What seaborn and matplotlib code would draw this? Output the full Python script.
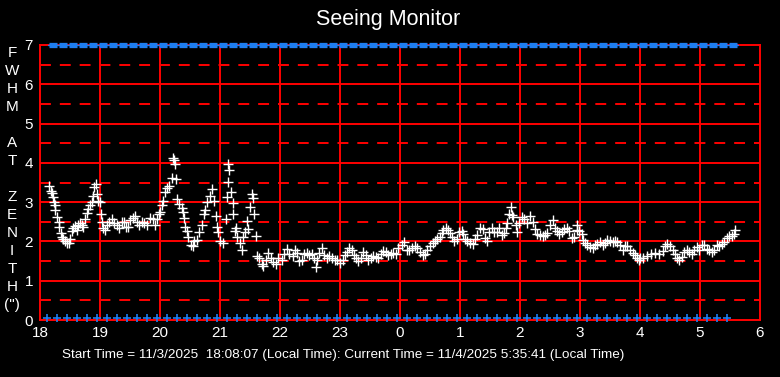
import matplotlib
matplotlib.use('Agg')
import matplotlib.pyplot as plt
import seaborn as sns
import pandas as pd

# FWHM samples: hour of night (18 = 18:00, 24 = midnight, 29.5 = 5:30) and FWHM in arcsec
hours = [
    18.155, 18.178, 18.195, 18.21, 18.233, 18.245, 18.255, 18.29, 18.31, 18.32,
    18.345, 18.367, 18.39, 18.417, 18.445, 18.478, 18.5, 18.528, 18.555, 18.583,
    18.61, 18.64, 18.667, 18.695, 18.72, 18.75, 18.78, 18.805, 18.833, 18.86,
    18.878, 18.905, 18.928, 18.945, 18.97, 19.0, 19.01, 19.03, 19.055, 19.083,
    19.11, 19.155, 19.195, 19.233, 19.28, 19.32, 19.36, 19.4, 19.433, 19.47,
    19.5, 19.545, 19.583, 19.61, 19.655, 19.695, 19.733, 19.78, 19.833, 19.88,
    19.917, 19.955, 19.99,
    20.0, 20.03, 20.055, 20.083, 20.12, 20.155, 20.195, 20.267, 20.21, 20.233,
    20.255, 20.29, 20.32, 20.36, 20.378, 20.4, 20.417, 20.445, 20.47, 20.51,
    20.545, 20.567, 20.61, 20.655, 20.695, 20.733, 20.75, 20.79, 20.833, 20.87,
    20.905, 20.933, 20.945, 20.97, 21.0, 21.045, 21.14, 21.155, 21.128, 21.183,
    21.11, 21.21, 21.22, 21.1, 21.267, 21.25, 21.29, 21.333, 21.36, 21.39,
    21.417, 21.455, 21.47, 21.5, 21.53, 21.545, 21.567, 21.595, 21.61, 21.65,
    21.695, 21.72, 21.767, 21.805, 21.85, 21.89, 21.933, 21.97,
    22.03, 22.067, 22.12, 22.155, 22.21, 22.25, 22.28, 22.32, 22.36, 22.4,
    22.445, 22.49, 22.53, 22.567, 22.6, 22.62, 22.655, 22.695, 22.733, 22.78,
    22.82, 22.86, 22.917, 22.955, 23.0, 23.045, 23.083, 23.12, 23.155, 23.195,
    23.233, 23.267, 23.305, 23.345, 23.39, 23.433, 23.47, 23.51, 23.555, 23.6,
    23.64, 23.68, 23.72, 23.767, 23.805, 23.845, 23.89, 23.933, 23.97,
    24.03, 24.067, 24.11, 24.155, 24.195, 24.25, 24.29, 24.333, 24.378, 24.417,
    24.455, 24.5, 24.545, 24.583, 24.62, 24.667, 24.695, 24.72, 24.767, 24.805,
    24.833, 24.86, 24.9, 24.945, 24.99, 25.03, 25.055, 25.083, 25.12, 25.167,
    25.21, 25.25, 25.29, 25.333, 25.378, 25.417, 25.455, 25.49, 25.53, 25.567,
    25.61, 25.65, 25.695, 25.733, 25.767, 25.79, 25.82, 25.845, 25.86, 25.89,
    25.933, 25.955, 25.99,
    26.03, 26.067, 26.11, 26.167, 26.22, 26.25, 26.29, 26.333, 26.378, 26.417,
    26.455, 26.5, 26.545, 26.583, 26.62, 26.655, 26.695, 26.733, 26.78, 26.82,
    26.86, 26.9, 26.945, 26.955, 26.99, 27.03, 27.045, 27.083, 27.12, 27.167,
    27.21, 27.25, 27.29, 27.333, 27.378, 27.417, 27.455, 27.5, 27.545, 27.583,
    27.62, 27.667, 27.71, 27.75, 27.79, 27.833, 27.878, 27.917, 27.955, 27.99,
    28.0, 28.055, 28.11, 28.178, 28.25, 28.32, 28.378, 28.417, 28.455, 28.5,
    28.545, 28.583, 28.62, 28.655, 28.695, 28.733, 28.78, 28.82, 28.86, 28.9,
    28.945, 28.99, 29.03, 29.067, 29.11, 29.155, 29.195, 29.233, 29.28, 29.32,
    29.36, 29.4, 29.445, 29.49, 29.53, 29.567, 29.59,
]
fwhm = [
    3.42, 3.29, 3.23, 3.125, 3.0, 2.92, 2.79, 2.625, 2.5, 2.375,
    2.21, 2.125, 2.07, 2.0, 1.96, 1.96, 2.07, 2.27, 2.35, 2.4,
    2.29, 2.43, 2.46, 2.43, 2.375, 2.57, 2.73, 2.83, 2.92, 3.0,
    3.15, 3.375, 3.46, 3.21, 3.02, 3.0, 2.71, 2.5, 2.35, 2.29,
    2.42, 2.5, 2.56, 2.46, 2.42, 2.35, 2.5, 2.5, 2.375, 2.375,
    2.54, 2.6, 2.65, 2.5, 2.43, 2.5, 2.48, 2.42, 2.6, 2.57,
    2.42, 2.57, 2.71,
    2.75, 2.92, 3.02, 3.25, 3.35, 3.42, 3.625, 3.6, 4.125, 4.08,
    3.96, 3.07, 2.96, 2.85, 2.75, 2.6, 2.375, 2.27, 2.125, 1.9,
    1.875, 2.02, 2.04, 2.25, 2.42, 2.71, 2.79, 3.0, 3.15, 3.33,
    3.04, 2.65, 2.375, 2.25, 2.02, 1.96, 3.96, 3.82, 3.52, 3.27,
    3.125, 2.98, 2.71, 2.57, 2.35, 2.27, 2.125, 1.96, 1.79, 2.125,
    2.25, 2.52, 2.32, 2.875, 3.21, 3.1, 2.71, 2.14, 1.625, 1.57,
    1.42, 1.375, 1.54, 1.71, 1.58, 1.48, 1.43, 1.58,
    1.54, 1.68, 1.82, 1.67, 1.625, 1.79, 1.71, 1.5, 1.54, 1.67,
    1.71, 1.65, 1.67, 1.57, 1.35, 1.52, 1.71, 1.83, 1.65, 1.57,
    1.625, 1.57, 1.52, 1.54, 1.46, 1.54, 1.65, 1.73, 1.83, 1.79,
    1.65, 1.58, 1.5, 1.57, 1.73, 1.65, 1.52, 1.57, 1.625, 1.6,
    1.57, 1.68, 1.75, 1.73, 1.65, 1.68, 1.71, 1.68, 1.83,
    1.92, 1.98, 1.79, 1.77, 1.83, 1.875, 1.83, 1.73, 1.65, 1.68,
    1.79, 1.875, 1.96, 2.02, 2.07, 2.125, 2.21, 2.29, 2.33, 2.29,
    2.21, 2.125, 2.02, 2.07, 2.25, 2.27, 2.18, 2.07, 2.0, 1.96,
    1.93, 2.07, 2.17, 2.35, 2.32, 2.1, 2.0, 2.25, 2.35, 2.25,
    2.23, 2.35, 2.17, 2.21, 2.35, 2.48, 2.71, 2.875, 2.67, 2.625,
    2.42, 2.23, 2.46,
    2.625, 2.57, 2.48, 2.65, 2.5, 2.32, 2.18, 2.17, 2.15, 2.17,
    2.21, 2.43, 2.54, 2.33, 2.27, 2.18, 2.25, 2.32, 2.35, 2.27,
    2.1, 2.125, 2.29, 2.43, 2.27, 2.18, 2.04, 1.96, 1.9, 1.85,
    1.83, 1.9, 1.93, 1.98, 1.92, 1.96, 2.04, 2.0, 1.98, 2.02,
    1.98, 1.92, 1.79, 1.875, 1.875, 1.77, 1.71, 1.65, 1.58, 1.54,
    1.58, 1.57, 1.625, 1.68, 1.71, 1.68, 1.75, 1.875, 1.93, 1.875,
    1.79, 1.68, 1.58, 1.52, 1.6, 1.73, 1.77, 1.73, 1.68, 1.79,
    1.85, 1.79, 1.92, 1.92, 1.82, 1.77, 1.73, 1.79, 1.92, 1.875,
    1.93, 1.98, 2.08, 2.15, 2.15, 2.18, 2.29,
]

# status markers (minutes after 18:00)
top_minutes = [
    13, 23, 33, 43, 53, 63, 73, 83, 93, 103, 113, 123, 133, 143, 153, 163, 173,
    183, 193, 203, 213, 223, 233, 243, 253, 263, 273, 283, 293, 303, 313, 323,
    333, 343, 353, 363, 373, 383, 393, 403, 413, 423, 433, 443, 453, 463, 473,
    483, 493, 503, 513, 523, 533, 543, 553, 563, 573, 583, 593, 603, 613, 623,
    633, 643, 653, 663, 673, 683, 693,
]
bottom_minutes = [
    7, 17, 27, 37, 47, 57, 67, 77, 87, 97, 107, 117, 127, 137, 147, 157, 167,
    177, 187, 197, 207, 217, 227, 237, 247, 257, 267, 277, 287, 297, 307, 317,
    327, 337, 347, 357, 367, 377, 387, 397, 407, 417, 427, 437, 447, 457, 467,
    477, 487, 497, 507, 517, 527, 537, 547, 557, 567, 577, 587, 597, 607, 617,
    627, 637, 647, 657, 667, 677, 687,
]

hour_ticks = [18, 19, 20, 21, 22, 23, 24, 25, 26, 27, 28, 29, 30]
hour_labels = ['18', '19', '20', '21', '22', '23', '0', '1', '2', '3', '4', '5', '6']
y_ticks = [0, 1, 2, 3, 4, 5, 6, 7]
ylabel_chars = ['F', 'W', 'H', 'M', '', 'A', 'T', '', 'Z', 'E', 'N', 'I', 'T', 'H', '(")']

RED = '#ff0000'
BLUE = '#1e7ef0'

sns.set_style('dark', {'axes.facecolor': 'black', 'figure.facecolor': 'black'})
plt.rcParams['font.family'] = ['Liberation Sans', 'DejaVu Sans']

W, H = 780, 377
fig = plt.figure(figsize=(W / 100, H / 100), dpi=100)
ax = fig.add_axes([40 / W, (H - 320) / H, 720 / W, 275 / H])
ax.set_facecolor('black')

# grid: solid on whole values, dashed on halves
for t in hour_ticks[1:-1]:
    ax.axvline(t, color=RED, lw=1.4, zorder=1)
for v in [1, 2, 3, 4, 5, 6]:
    ax.axhline(v, color=RED, lw=1.4, zorder=1)
for v in [0.5, 1.5, 2.5, 3.5, 4.5, 5.5, 6.5]:
    ax.axhline(v, color=RED, lw=1.4, dashes=(5.6, 4.6), zorder=1)

df = pd.DataFrame({'hour': hours, 'fwhm': fwhm})
sns.scatterplot(data=df, x='hour', y='fwhm', marker='+', color='white',
                s=42, linewidth=1.0, ax=ax, zorder=3)

top_x = [18 + m / 60 for m in top_minutes]
bot_x = [18 + m / 60 for m in bottom_minutes]
ax.plot([top_x[0] - 0.08, top_x[-1] + 0.08], [7, 7], color=BLUE, lw=1.0,
        clip_on=False, zorder=4)
ax.plot(top_x, [7] * len(top_x), ls='none', marker='_', ms=6.2, mew=3.8,
        color=BLUE, clip_on=False, zorder=5)
ax.plot(bot_x, [0.06] * len(bot_x), ls='none', marker='+', ms=6, mew=1.2,
        color=BLUE, clip_on=False, zorder=5)

ax.set_xlim(18, 30)
ax.set_ylim(0, 6.875)
ax.set_xticks(hour_ticks)
ax.set_xticklabels(hour_labels)
ax.set_yticks(y_ticks)
ax.set_yticklabels([str(v) for v in y_ticks])
ax.tick_params(length=0, colors='white', labelsize=11)
ax.tick_params(axis='x', pad=4)
ax.tick_params(axis='y', pad=5)
ax.set_xlabel('')
ax.set_ylabel('')
for sp in ax.spines.values():
    sp.set_visible(True)
    sp.set_color(RED)
    sp.set_linewidth(1.4)

fig.text(388 / W, 1 - 20 / H, 'Seeing Monitor', color='white', fontsize=15.5,
         ha='center', va='center')
for i, ch in enumerate(ylabel_chars):
    fig.text(12 / W, 1 - (53 + 18 * i) / H, ch, color='white', fontsize=11,
             ha='center', va='center')
fig.text(62 / W, 1 - 355 / H,
         'Start Time = 11/3/2025  18:08:07 (Local Time): Current Time = 11/4/2025 5:35:41 (Local Time)',
         color='white', fontsize=9.7, ha='left', va='center')

fig.savefig('out.png', dpi=100, facecolor='black')
